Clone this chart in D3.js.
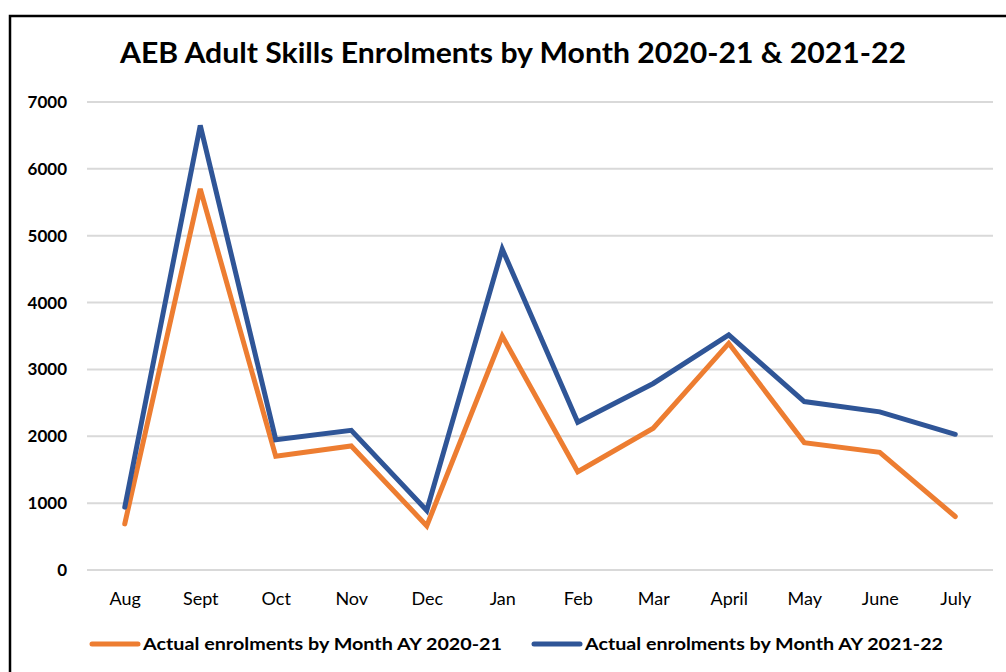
<!DOCTYPE html>
<html>
<head>
<meta charset="utf-8">
<script src="https://cdnjs.cloudflare.com/ajax/libs/d3/7.8.5/d3.min.js"></script>
<style>
    body { margin: 0; background: #fff; }
    svg text { font-family: Lato, "Liberation Sans", Arial, sans-serif; fill: #000; }
</style>
</head>
<body>
<script>
(function () {
    var months = ["Aug", "Sept", "Oct", "Nov", "Dec", "Jan", "Feb", "Mar", "April", "May", "June", "July"];
    var enrol2021 = [690, 5700, 1700, 1855, 660, 3500, 1470, 2120, 3390, 1905, 1760, 800];
    var enrol2122 = [940, 6650, 1950, 2090, 890, 4800, 2210, 2790, 3515, 2520, 2365, 2030];
    var yTicks = [0, 1000, 2000, 3000, 4000, 5000, 6000, 7000];
    var seriesNames = ["Actual enrolments by Month AY 2020-21", "Actual enrolments by Month AY 2021-22"];
    var colors = ["#ED7D31", "#2F5597"];

    var W = 1006, H = 672;
    var margin = { top: 102, right: 13, bottom: 102, left: 87 };
    var width = W - margin.left - margin.right;
    var height = H - margin.top - margin.bottom;

    var svg = d3.select("body").append("svg")
        .attr("width", W)
        .attr("height", H);

    // frame
    svg.append("rect")
        .attr("x", 10).attr("y", 16)
        .attr("width", W + 20).attr("height", H + 20)
        .attr("fill", "#fff")
        .attr("stroke", "#000")
        .attr("stroke-width", 2.5);

    svg.append("text")
        .attr("x", 513)
        .attr("y", 63)
        .attr("text-anchor", "middle")
        .attr("font-size", 28)
        .attr("font-weight", "bold")
        .attr("textLength", 786)
        .attr("lengthAdjust", "spacingAndGlyphs")
        .text("AEB Adult Skills Enrolments by Month 2020-21 & 2021-22");

    var g = svg.append("g")
        .attr("transform", "translate(" + margin.left + "," + margin.top + ")");

    var x = d3.scalePoint()
        .domain(months)
        .range([0, width])
        .padding(0.5);

    var y = d3.scaleLinear()
        .domain([0, 7000])
        .range([height, 0]);

    // gridlines
    g.append("g")
        .selectAll("line")
        .data(yTicks)
        .enter()
          .append("line")
            .attr("x1", 0)
            .attr("x2", width)
            .attr("y1", d => y(d))
            .attr("y2", d => y(d))
            .attr("stroke", "#D9D9D9")
            .attr("stroke-width", 2);

    var yAxis = d3.axisLeft(y).tickValues(yTicks).tickFormat(d3.format("d")).tickSize(0).tickPadding(20);
    var yG = g.append("g").call(yAxis);
    yG.select(".domain").remove();
    yG.selectAll("text")
        .attr("font-size", 17)
        .attr("font-weight", "bold")
        .attr("font-family", "Lato, Arial, sans-serif")
        .attr("fill", "#000");

    var xAxis = d3.axisBottom(x).tickSize(0).tickPadding(22);
    var xG = g.append("g")
        .attr("transform", "translate(0," + height + ")")
        .call(xAxis);
    xG.select(".domain").remove();
    xG.selectAll("text")
        .attr("font-size", 18)
        .attr("font-family", "Lato, Arial, sans-serif")
        .attr("fill", "#000");

    var line = d3.line()
        .x(function (d, i) { return x(months[i]); })
        .y(function (d) { return y(d); });

    [enrol2021, enrol2122].forEach(function (series, k) {
        g.append("path")
            .datum(series)
            .attr("fill", "none")
            .attr("stroke", colors[k])
            .attr("stroke-width", 5)
            .attr("stroke-linejoin", "miter")
            .attr("stroke-linecap", "round")
            .attr("d", line);
    });

    // legend
    var legendX = [90, 532];
    var legendText = [[143, 359], [585, 358]];
    seriesNames.forEach(function (name, k) {
        svg.append("line")
            .attr("x1", legendX[k] + 2)
            .attr("x2", legendX[k] + 48)
            .attr("y1", 644)
            .attr("y2", 644)
            .attr("stroke", colors[k])
            .attr("stroke-width", 5)
            .attr("stroke-linecap", "round");
        svg.append("text")
            .attr("x", legendText[k][0])
            .attr("y", 650)
            .attr("font-size", 17)
            .attr("font-weight", "bold")
            .attr("textLength", legendText[k][1])
            .attr("lengthAdjust", "spacingAndGlyphs")
            .text(name);
    });
})();
</script>
</body>
</html>
